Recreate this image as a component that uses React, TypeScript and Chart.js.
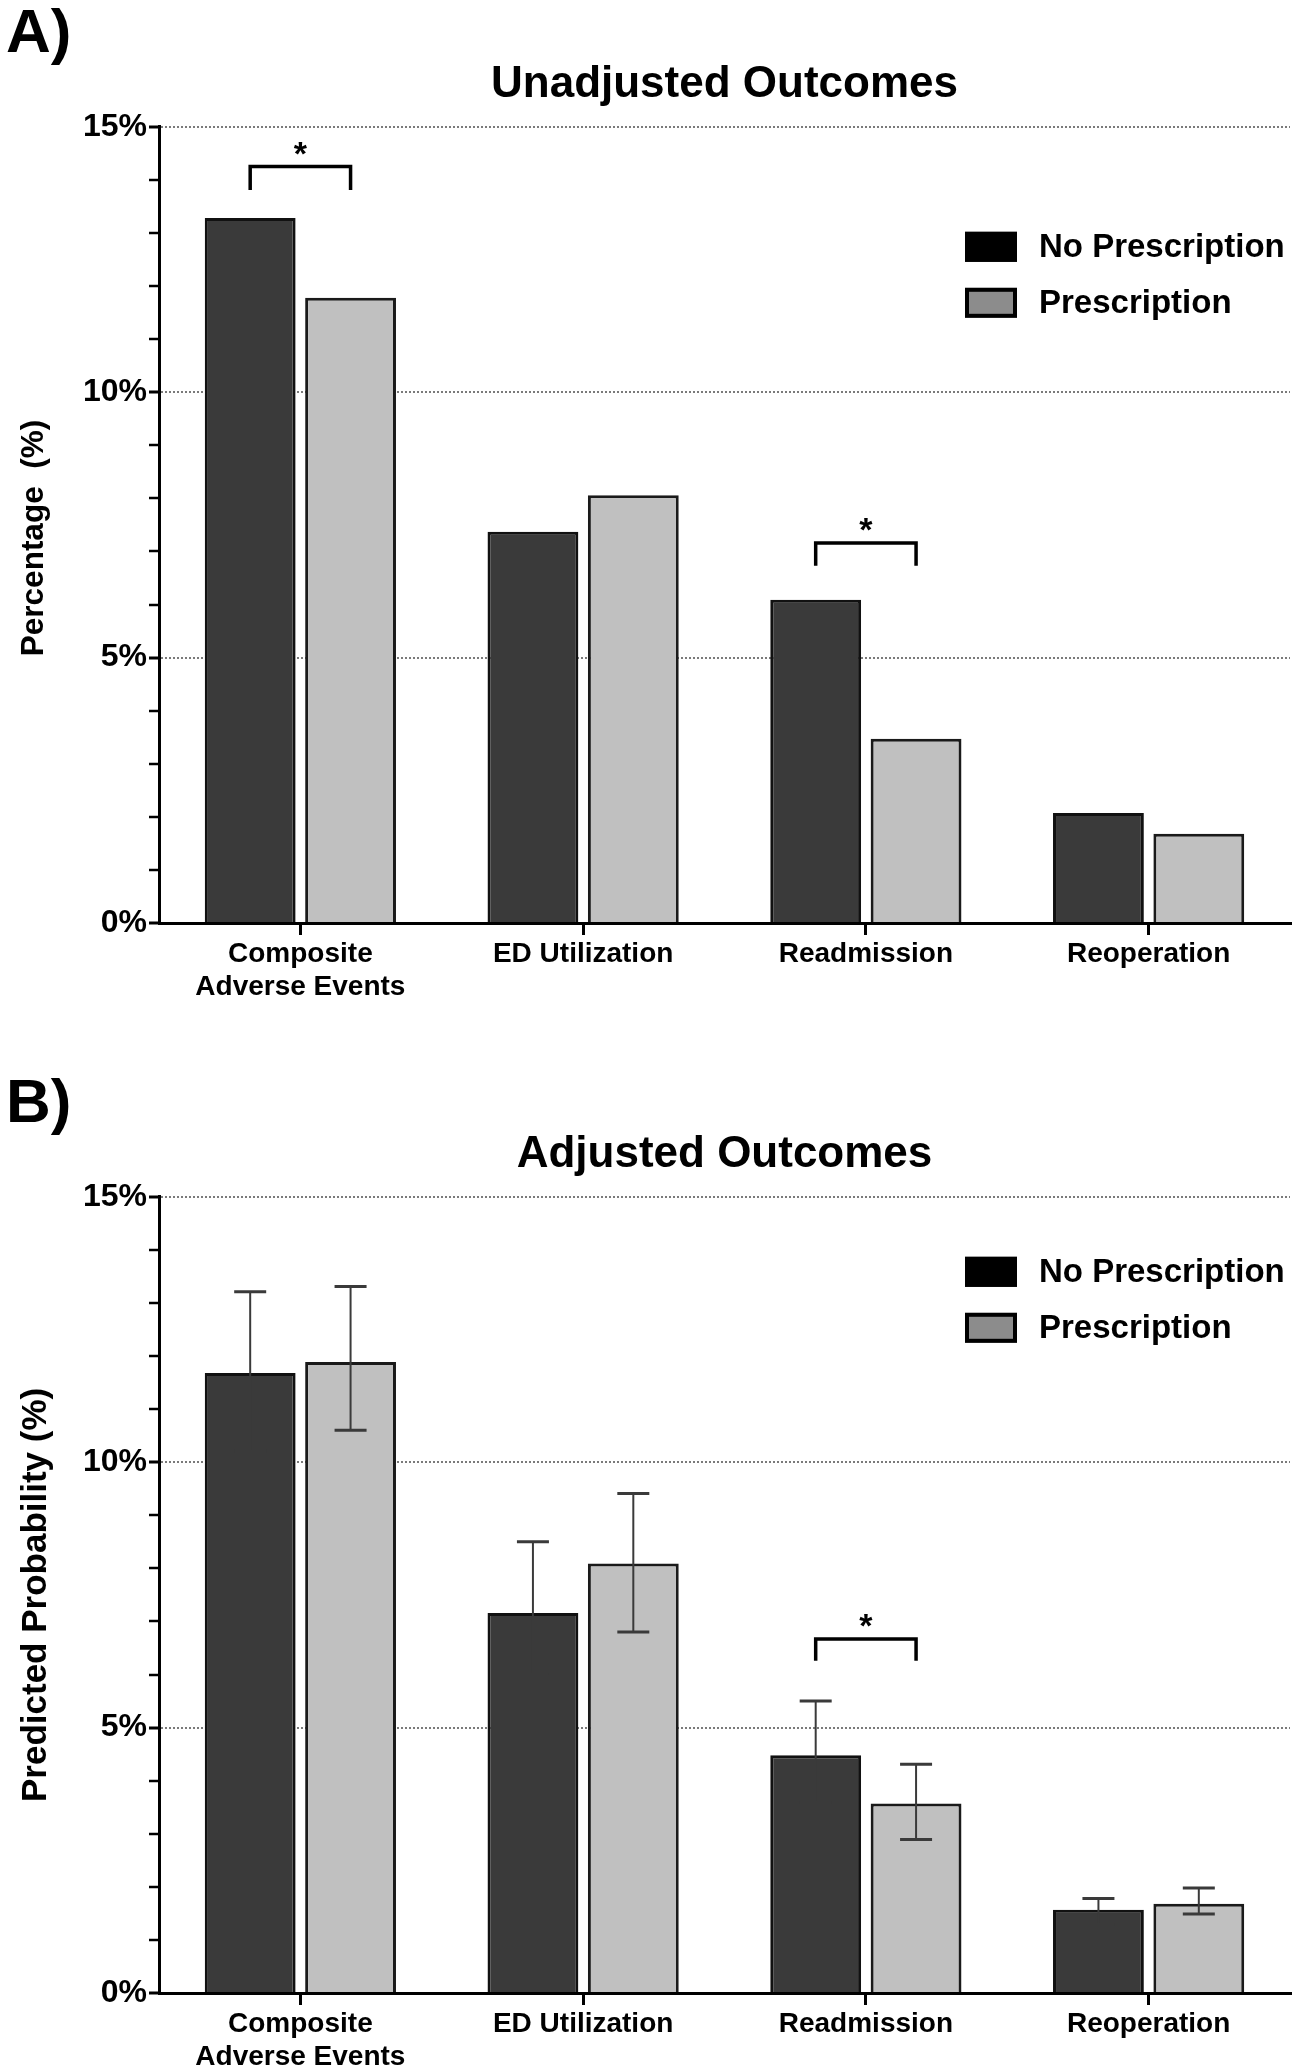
import React, { useEffect, useRef } from 'react';
import { Chart, registerables } from 'chart.js';

Chart.register(...registerables);

// ---------- data ----------
const categories: (string | string[])[] = [['Composite', 'Adverse Events'], 'ED Utilization', 'Readmission', 'Reoperation'];
const seriesNames = ['No Prescription', 'Prescription'];

const unadjNoRx = [13.28, 7.37, 6.09, 2.07];
const unadjRx = [11.78, 8.06, 3.47, 1.68];

const adjNoRx = [11.68, 7.16, 4.48, 1.57];
const adjRx = [11.89, 8.09, 3.57, 1.68];
const adjNoRxLow = [10.21, 6.01, 3.59, 1.29];
const adjNoRxHigh = [13.21, 8.5, 5.5, 1.78];
const adjRxLow = [10.6, 6.8, 2.89, 1.49];
const adjRxHigh = [13.31, 9.41, 4.31, 1.98];

const yMajorTicks = [0, 5, 10, 15];

const unadjSigCategory = [0, 2];
const unadjSigLevel = [14.25, 7.16];
const unadjSigFoot = [13.81, 6.73];
const adjSigCategory = [2];
const adjSigLevel = [6.67];
const adjSigFoot = [6.26];

// ---------- styles ----------
const FONT = '"Liberation Sans", Arial, Helvetica, sans-serif';
Chart.defaults.font.family = FONT;
Chart.defaults.color = '#000';

const barFill = ['#3a3a3a', '#c0c0c0'];
const barBorder = ['#111111', '#1a1a1a'];
const legendFill = ['#000000', '#8c8c8c'];

function makeErrorBarPlugin(lows: number[][], highs: number[][]) {
  return {
    id: 'errorBars',
    afterDatasetsDraw(chart: any) {
      const { ctx } = chart;
      const y = chart.scales.y;
      lows.forEach((arr, di) => {
        const meta = chart.getDatasetMeta(di);
        arr.forEach((lo, i) => {
          const hi = highs[di][i];
          const el = meta.data[i];
          if (!el) return;
          const x = el.x;
          const yl = y.getPixelForValue(lo);
          const yh = y.getPixelForValue(hi);
          ctx.save();
          ctx.strokeStyle = '#3a3a3a';
          ctx.lineWidth = 2;
          ctx.beginPath();
          ctx.moveTo(x, yl);
          ctx.lineTo(x, yh);
          ctx.stroke();
          ctx.lineWidth = 3;
          ctx.beginPath();
          ctx.moveTo(x - 16, yl);
          ctx.lineTo(x + 16, yl);
          ctx.moveTo(x - 16, yh);
          ctx.lineTo(x + 16, yh);
          ctx.stroke();
          ctx.restore();
        });
      });
    },
  };
}

function makeSigPlugin(cats: number[], levels: number[], feet: number[]) {
  return {
    id: 'sigBrackets',
    afterDatasetsDraw(chart: any) {
      const { ctx } = chart;
      const y = chart.scales.y;
      const m0 = chart.getDatasetMeta(0);
      const m1 = chart.getDatasetMeta(1);
      cats.forEach((c, k) => {
        const x0 = m0.data[c].x;
        const x1 = m1.data[c].x;
        const yl = y.getPixelForValue(levels[k]);
        const yf = y.getPixelForValue(feet[k]);
        ctx.save();
        ctx.strokeStyle = '#000';
        ctx.lineWidth = 3.5;
        ctx.lineJoin = 'miter';
        ctx.beginPath();
        ctx.moveTo(x0, yf);
        ctx.lineTo(x0, yl);
        ctx.lineTo(x1, yl);
        ctx.lineTo(x1, yf);
        ctx.stroke();
        ctx.fillStyle = '#000';
        ctx.font = `bold 34px ${FONT}`;
        ctx.textAlign = 'center';
        ctx.textBaseline = 'middle';
        ctx.fillText('*', (x0 + x1) / 2, yl - 11);
        ctx.restore();
      });
    },
  };
}

function makeLegendPlugin(offsetY: number) {
  return {
    id: 'boxLegend',
    afterDraw(chart: any) {
      const { ctx, chartArea } = chart;
      const bx = chartArea.right - 325;
      seriesNames.forEach((name, i) => {
        const by = chartArea.top + offsetY + i * 56;
        ctx.save();
        ctx.fillStyle = legendFill[i];
        ctx.fillRect(bx, by, 52, 30);
        ctx.strokeStyle = '#000';
        ctx.lineWidth = 4;
        ctx.strokeRect(bx + 2, by + 2, 48, 26);
        ctx.fillStyle = '#000';
        ctx.font = `bold 33px ${FONT}`;
        ctx.textAlign = 'left';
        ctx.textBaseline = 'middle';
        ctx.fillText(name, bx + 74, by + 16);
        ctx.restore();
      });
    },
  };
}

type PanelProps = {
  noRx: number[];
  rx: number[];
  title: string;
  yTitle: string;
  yTitleSize: number;
  plugins: any[];
};

function Panel({ noRx, rx, title, yTitle, yTitleSize, plugins }: PanelProps) {
  const ref = useRef<HTMLCanvasElement | null>(null);
  useEffect(() => {
    if (!ref.current) return;
    const chart = new Chart(ref.current, {
      type: 'bar',
      data: {
        labels: categories as any,
        datasets: [noRx, rx].map((d, i) => ({
          label: seriesNames[i],
          data: d,
          backgroundColor: barFill[i],
          borderColor: barBorder[i],
          borderWidth: 3,
          categoryPercentage: 0.71,
          barPercentage: 0.905,
        })),
      },
      options: {
        responsive: false,
        animation: false,
        devicePixelRatio: 1,
        layout: { padding: { top: 0, left: 0, right: 7, bottom: 0 } },
        plugins: {
          legend: { display: false },
          tooltip: { enabled: false },
          title: {
            display: true,
            text: title,
            color: '#000',
            fullSize: false,
            font: { size: 44, weight: 'bold', lineHeight: 1.2 },
            padding: { top: 58, bottom: 16 },
          },
        },
        scales: {
          x: {
            afterFit: (s: any) => {
              s.height = 77;
            },
            ticks: {
              color: '#000',
              font: { size: 28, weight: 'bold', lineHeight: 1.18 },
              padding: 3,
              maxRotation: 0,
              autoSkip: false,
            },
            grid: {
              offset: false,
              drawOnChartArea: false,
              color: '#000',
              tickColor: '#000',
              tickLength: 12,
              tickWidth: 3,
              lineWidth: 3,
            },
            border: { color: '#000', width: 3 },
          },
          y: {
            min: 0,
            max: 15,
            afterFit: (s: any) => {
              s.width = 159;
            },
            ticks: {
              stepSize: 1,
              autoSkip: false,
              color: '#000',
              font: { size: 32, weight: 'bold' },
              padding: 2,
              callback: (v: any) => (yMajorTicks.includes(Number(v)) ? `${v}%` : ''),
            },
            grid: {
              color: (c: any) =>
                c.tick && c.tick.value > 0 && c.tick.value % 5 === 0 ? '#7a7a7a' : 'rgba(0,0,0,0)',
              lineWidth: 2,
              tickColor: '#000',
              tickLength: 10,
              tickWidth: (c: any) => (c.tick && c.tick.value % 5 === 0 ? 3 : 2.5),
            },
            border: { color: '#000', width: 3, dash: [2, 2] },
            title: {
              display: true,
              text: yTitle,
              color: '#000',
              font: { size: yTitleSize, weight: 'bold', lineHeight: 1.2 },
              padding: { top: 15, bottom: 0 },
            },
          },
        },
      } as any,
      plugins,
    });
    return () => chart.destroy();
  }, []);
  return <canvas ref={ref} width={1297} height={1000} style={{ display: 'block', width: 1297, height: 1000 }} />;
}

const panelLabel = (top: number): React.CSSProperties => ({
  position: 'absolute',
  left: 6,
  top,
  fontFamily: FONT,
  fontWeight: 'bold',
  fontSize: 62,
  lineHeight: 1,
  color: '#000',
});

export default function App() {
  return (
    <div style={{ position: 'absolute', left: 0, top: 0, width: 1297, height: 2070, background: '#fff', overflow: 'hidden' }}>
      <div style={{ position: 'absolute', left: 0, top: 0 }}>
        <Panel
          noRx={unadjNoRx}
          rx={unadjRx}
          title="Unadjusted Outcomes"
          yTitle={'Percentage  (%)\u00a0\u00a0\u00a0'}
          yTitleSize={31.5}
          plugins={[makeSigPlugin(unadjSigCategory, unadjSigLevel, unadjSigFoot), makeLegendPlugin(105)]}
        />
      </div>
      <div style={{ position: 'absolute', left: 0, top: 1070 }}>
        <Panel
          noRx={adjNoRx}
          rx={adjRx}
          title="Adjusted Outcomes"
          yTitle="Predicted Probability (%)"
          yTitleSize={35}
          plugins={[
            makeErrorBarPlugin([adjNoRxLow, adjRxLow], [adjNoRxHigh, adjRxHigh]),
            makeSigPlugin(adjSigCategory, adjSigLevel, adjSigFoot),
            makeLegendPlugin(60),
          ]}
        />
      </div>
      <div style={panelLabel(0)}>A)</div>
      <div style={panelLabel(1070)}>B)</div>
    </div>
  );
}
